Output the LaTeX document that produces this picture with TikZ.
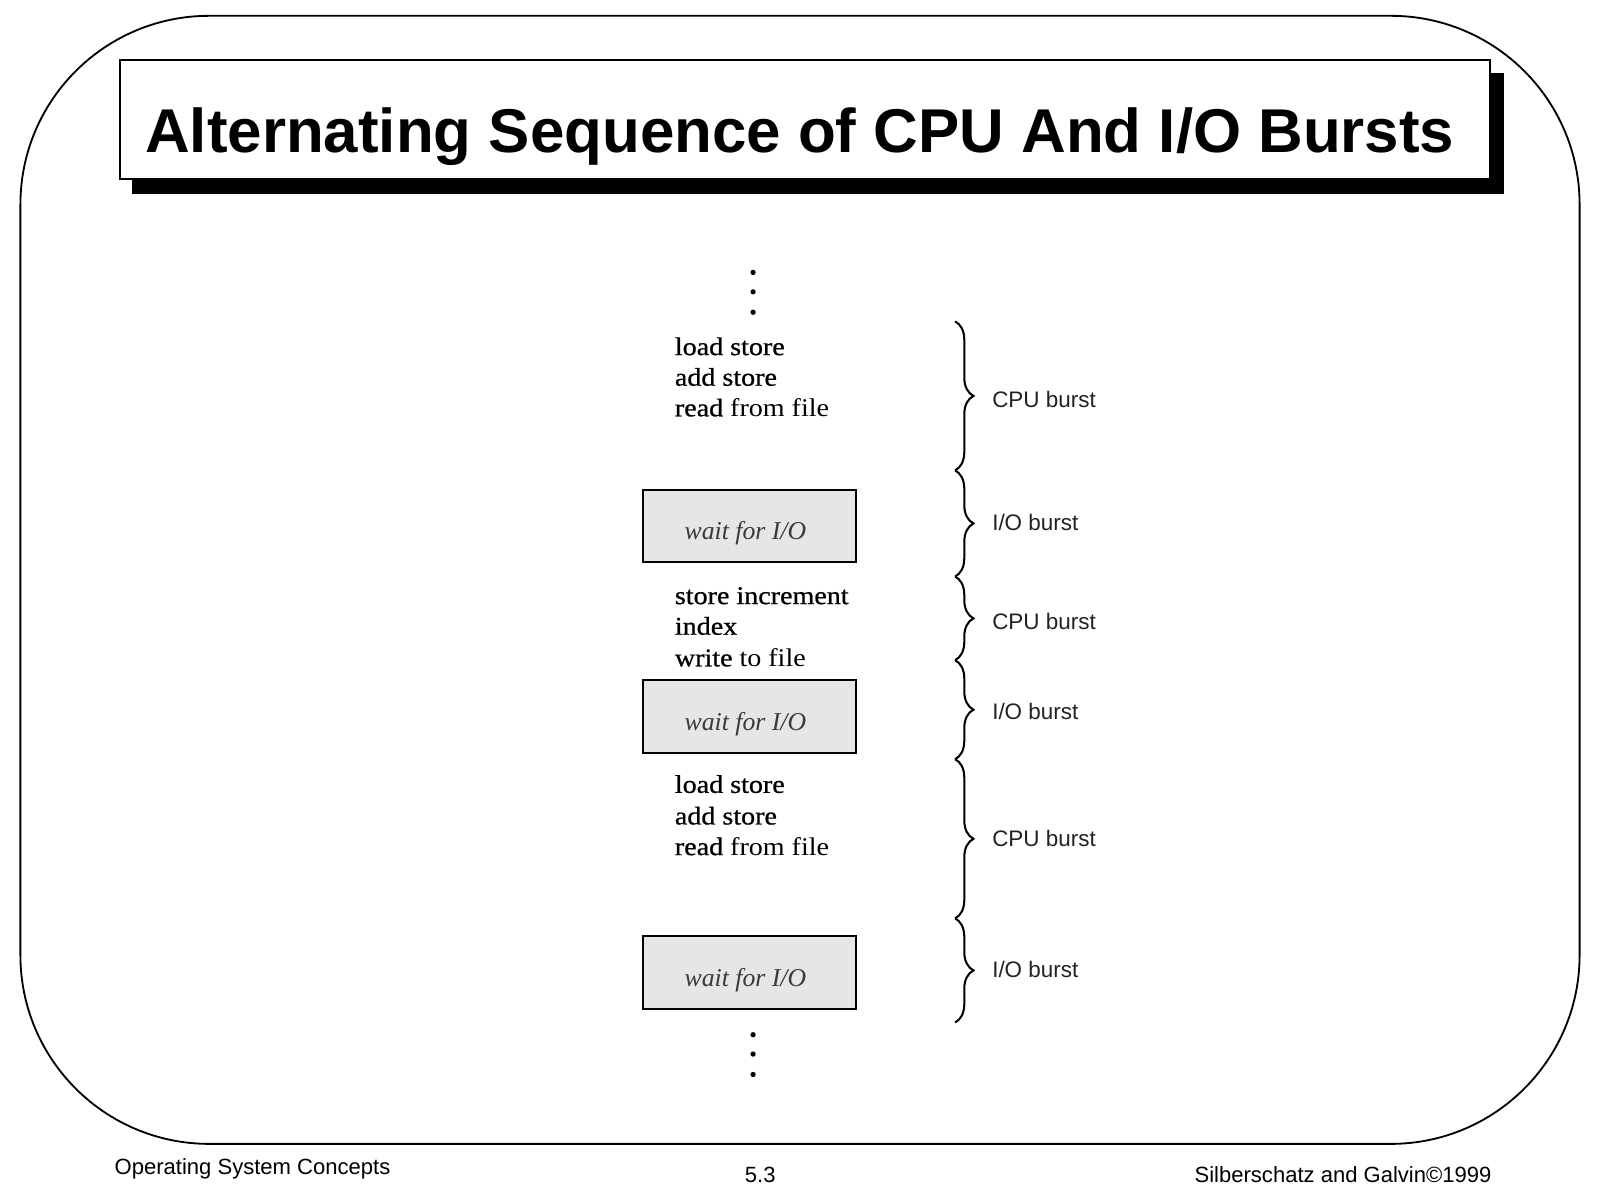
\documentclass[tikz,border=0pt]{standalone}
\usepackage{fontspec}
\setmainfont{Liberation Serif}
\newfontfamily\sansf{Liberation Sans}
\newfontfamily\instrf[FakeStretch=1.1]{Liberation Serif}
\newfontfamily\instrbf[FakeStretch=1.1,FakeBold=0.8]{Liberation Serif}
\usetikzlibrary{decorations.pathreplacing}
\definecolor{boxgray}{HTML}{E6E6E6}
\definecolor{waitgray}{HTML}{3A3A3A}
\definecolor{lblgray}{HTML}{222222}
\begin{document}
\begin{tikzpicture}[x=0.5pt,y=-0.5pt,
  titlefont/.style={font=\sansf\bfseries\fontsize{30.3}{36}\selectfont},
  instr/.style={anchor=base west,inner sep=0pt,font=\instrf\fontsize{12.5}{15}\selectfont,text=black},
  iobox/.style={draw=black,line width=1pt,fill=boxgray,minimum width=104.5pt,minimum height=35.5pt,inner sep=0pt,
     text height=13.5pt,text depth=0pt,
     font=\itshape\fontsize{12.6}{15}\selectfont,text=waitgray},
  bracedeco/.style={decorate,decoration={brace,amplitude=9pt},line width=1pt},
  lbl/.style={anchor=base west,inner sep=0pt,font=\sansf\fontsize{11}{13}\selectfont,text=lblgray},
  foot/.style={inner sep=0pt,font=\sansf\fontsize{10.8}{13}\selectfont},
  dotmark/.style={fill=black}
]
\useasboundingbox (0,0) rectangle (1568,1176);
\fill[white] (0,0) rectangle (1568,1176);

% outer rounded frame
\draw[line width=0.9pt,rounded corners=92.5pt] (20,15.5) rectangle (1548,1121);

% title box with shadow
\fill[black] (129.5,71.6) rectangle (1474,190);
\draw[fill=white,line width=1pt] (117.6,58.8) rectangle (1460,175.6);
\node[titlefont,anchor=base west,inner sep=0pt] (title) at (142,149) {Alternating Sequence of CPU And I/O Bursts};

% dots
\fill[dotmark] (738,267) circle (1.3pt);
\fill[dotmark] (738,286) circle (1.3pt);
\fill[dotmark] (738,306) circle (1.3pt);
\fill[dotmark] (738,1014) circle (1.3pt);
\fill[dotmark] (738,1033) circle (1.3pt);
\fill[dotmark] (738,1053) circle (1.3pt);

% instruction blocks
\node[instr] (a1) at (661,348) {\instrbf load store};
\node[instr] (a2) at (661,378) {\instrbf add store};
\node[instr] (a3) at (661,408) {{\instrbf read} from file};

\node[instr] (b1) at (661,592) {\instrbf store increment};
\node[instr] (b2) at (661,622) {\instrbf index};
\node[instr] (b3) at (661,653) {{\instrbf write} to file};

\node[instr] (c1) at (661,777) {\instrbf load store};
\node[instr] (c2) at (661,808) {\instrbf add store};
\node[instr] (c3) at (661,838) {{\instrbf read} from file};

% wait boxes
\node[iobox] (w1) at (734.5,515.5) {\hspace*{-4pt}wait for I/O};
\node[iobox] (w2) at (734.5,702) {\hspace*{-4pt}wait for I/O};
\node[iobox] (w3) at (734.5,953) {\hspace*{-4pt}wait for I/O};

% braces
\coordinate (k0) at (936,315);
\coordinate (k1) at (936,461);
\coordinate (k2) at (936,565);
\coordinate (k3) at (936,647);
\coordinate (k4) at (936,744);
\coordinate (k5) at (936,900);
\coordinate (k6) at (936,1002);
\draw[bracedeco] (k0) -- (k1);
\draw[bracedeco] (k1) -- (k2);
\draw[bracedeco] (k2) -- (k3);
\draw[bracedeco] (k3) -- (k4);
\draw[bracedeco] (k4) -- (k5);
\draw[bracedeco] (k5) -- (k6);

\node[lbl] (l1) at (972,399) {CPU burst};
\node[lbl] (l2) at (972,520) {I/O burst};
\node[lbl] (l3) at (972,617) {CPU burst};
\node[lbl] (l4) at (972,705) {I/O burst};
\node[lbl] (l5) at (972,830) {CPU burst};
\node[lbl] (l6) at (972,958) {I/O burst};

% footer
\node[foot,anchor=base west] (f1) at (112,1151) {Operating System Concepts};
\node[foot,anchor=base] (f2) at (745,1159) {5.3};
\node[foot,anchor=base east] (f3) at (1462,1159) {Silberschatz and Galvin©1999};
\end{tikzpicture}
\end{document}
